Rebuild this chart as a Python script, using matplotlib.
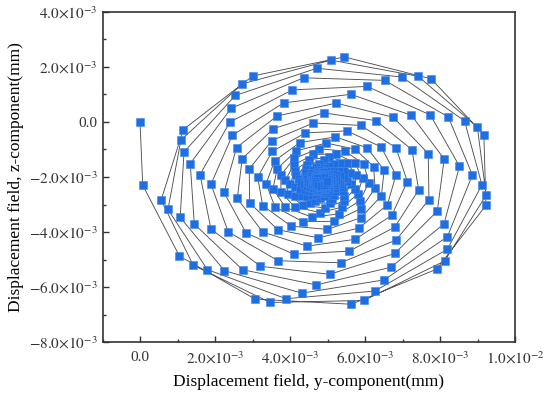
"""
Trajetoria em espiral do campo de deslocamento (componentes y e z).

Os pontos foram lidos da figura em coordenadas polares em torno do centro
da espiral: angulo (graus) e raio (unidades de 1e-3 mm), uma volta por linha,
na ordem em que a trajetoria os percorre.
"""

import numpy as np
import matplotlib.pyplot as plt
from matplotlib.ticker import FuncFormatter, MultipleLocator

plt.rcParams["font.family"] = ["Liberation Serif", "DejaVu Serif"]
plt.rcParams["mathtext.fontset"] = "stix"

ESCALA = 1e-3  # valores abaixo em unidades de 1e-3 mm

PONTO_INICIAL_Y = 0.0
PONTO_INICIAL_Z = 0.0
CENTRO_Y = 4.83
CENTRO_Z = -2.16

# angulo de cada ponto em relacao ao centro (graus), 11 pontos por volta
ANGULO_GRAUS = [
    181.6, 215.6, 247.6, 280.2, 314.0, 348.8, 21.4, 51.8, 82.2, 115.5, 152.9,
    189.0, 221.7, 252.8, 284.8, 318.7, 353.5, 25.4, 55.9, 86.6, 120.7, 158.1,
    194.0, 226.5, 257.6, 289.8, 323.8, 358.3, 29.9, 60.4, 91.6, 126.3, 163.7,
    199.2, 231.5, 262.7, 295.2, 329.2, 3.3, 34.6, 65.2, 97.1, 132.2, 169.5,
    204.6, 236.8, 268.1, 300.9, 334.9, 8.5, 39.6, 70.4, 103.0, 138.4, 175.6,
    210.5, 242.3, 273.9, 306.9, 340.8, 13.9, 44.9, 76.0, 109.4, 144.7, 182.0,
    216.4, 248.2, 280.0, 313.2, 347.0, 19.5, 50.4, 82.0, 116.3, 151.4, 188.8,
    223.1, 254.4, 286.5, 319.8, 353.3, 25.4, 56.3, 88.5, 123.6, 158.8, 195.5,
    229.7, 261.0, 293.5, 326.8, 359.9, 31.6, 62.6, 95.6, 131.5, 166.8, 202.3,
    236.6, 268.0, 300.9, 334.2, 6.7, 38.1, 69.4, 103.4, 140.0, 174.6, 209.4,
    243.8, 275.5, 308.8, 341.9, 13.7, 45.0, 76.7, 111.9, 148.9, 183.1, 216.8,
    251.5, 283.5, 317.1, 349.9, 21.0, 52.2, 84.6, 121.1, 158.3, 191.5, 224.5,
    259.6, 291.9, 325.7, 358.0, 28.6, 59.8, 93.1, 130.8, 167.9, 199.9, 232.4,
    268.0, 300.7, 334.5, 6.2, 36.3, 67.8, 102.2, 140.9, 177.6, 208.4, 240.6,
    276.8, 309.9, 343.5, 14.5, 44.3, 76.3, 112.0, 151.3, 187.2, 217.0, 249.1,
    286.0, 319.4, 352.7, 22.9, 52.6, 85.3, 122.5, 162.0, 196.7, 225.9, 258.0,
    295.6, 329.1, 1.9, 31.5, 61.3, 95.0, 133.5, 172.8, 206.2, 235.0, 267.3,
    305.7, 339.0, 11.1, 40.3, 70.4, 105.5, 145.0, 183.5, 215.8, 244.4, 277.0,
    316.1, 349.1, 20.4, 49.4, 80.1, 116.7, 156.8, 194.0, 225.5, 254.1, 287.1,
    326.8, 359.3, 29.9, 58.9, 90.5, 128.7, 168.8, 204.4, 235.4, 264.2, 297.7,
    337.7, 9.3, 39.5, 68.8, 101.7, 141.1, 180.6, 215.0, 245.6, 274.7, 308.7,
    348.8, 19.4, 49.4, 79.3, 113.8, 154.0, 192.1, 225.7, 256.1, 285.7, 320.0,
    359.9, 29.7, 59.7, 90.5, 126.7, 167.1, 203.4, 236.5, 267.0, 297.2, 331.6,
    10.9, 40.1, 70.5, 102.6, 140.2, 180.0, 214.7, 247.6, 278.5, 309.1, 343.3,
    21.8, 50.9, 82.0, 115.6, 154.1, 192.5, 226.2, 259.1, 290.5, 321.3, 355.1,
    32.8, 62.1, 94.3, 129.5, 168.1, 204.7, 237.8, 271.0, 303.0, 333.7, 6.8,
]

# distancia de cada ponto ao centro (1e-3 mm)
RAIO = [
    4.76, 4.65, 4.62, 4.53, 4.43, 4.48, 4.66, 4.74, 4.56, 4.24, 4.13,
    4.32, 4.57, 4.60, 4.47, 4.38, 4.43, 4.61, 4.61, 4.41, 4.12, 4.03,
    4.21, 4.41, 4.36, 4.23, 4.17, 4.29, 4.41, 4.36, 4.11, 3.87, 3.81,
    3.98, 4.14, 4.09, 3.95, 3.92, 4.04, 4.12, 4.04, 3.79, 3.58, 3.55,
    3.72, 3.83, 3.76, 3.63, 3.62, 3.73, 3.78, 3.66, 3.41, 3.25, 3.24,
    3.41, 3.48, 3.38, 3.27, 3.28, 3.38, 3.40, 3.26, 3.02, 2.90, 2.94,
    3.08, 3.10, 3.00, 2.92, 2.95, 3.03, 3.02, 2.87, 2.65, 2.57, 2.62,
    2.74, 2.74, 2.64, 2.57, 2.62, 2.68, 2.65, 2.49, 2.30, 2.26, 2.32,
    2.41, 2.38, 2.29, 2.25, 2.30, 2.34, 2.29, 2.13, 1.98, 1.97, 2.06,
    2.10, 2.05, 1.97, 1.96, 2.01, 2.03, 1.96, 1.81, 1.70, 1.70, 1.79,
    1.81, 1.75, 1.69, 1.69, 1.73, 1.73, 1.66, 1.52, 1.45, 1.47, 1.54,
    1.54, 1.49, 1.45, 1.46, 1.50, 1.48, 1.40, 1.29, 1.26, 1.31, 1.34,
    1.32, 1.27, 1.25, 1.27, 1.30, 1.27, 1.19, 1.10, 1.10, 1.14, 1.16,
    1.13, 1.09, 1.08, 1.11, 1.12, 1.08, 1.00, 0.94, 0.96, 0.99, 1.00,
    0.97, 0.93, 0.94, 0.96, 0.96, 0.92, 0.84, 0.81, 0.83, 0.86, 0.85,
    0.82, 0.80, 0.81, 0.83, 0.82, 0.77, 0.71, 0.70, 0.72, 0.74, 0.73,
    0.70, 0.69, 0.70, 0.71, 0.70, 0.65, 0.60, 0.60, 0.63, 0.64, 0.62,
    0.60, 0.59, 0.61, 0.61, 0.59, 0.54, 0.51, 0.53, 0.54, 0.54, 0.52,
    0.51, 0.51, 0.53, 0.52, 0.50, 0.46, 0.44, 0.46, 0.47, 0.47, 0.45,
    0.44, 0.45, 0.46, 0.45, 0.42, 0.39, 0.39, 0.41, 0.41, 0.40, 0.39,
    0.39, 0.40, 0.40, 0.39, 0.36, 0.34, 0.34, 0.36, 0.36, 0.35, 0.34,
    0.34, 0.35, 0.34, 0.33, 0.30, 0.29, 0.30, 0.31, 0.31, 0.30, 0.29,
    0.29, 0.30, 0.29, 0.28, 0.25, 0.25, 0.26, 0.27, 0.26, 0.25, 0.25,
    0.26, 0.26, 0.25, 0.23, 0.22, 0.22, 0.23, 0.23, 0.22, 0.21, 0.21,
    0.22, 0.22, 0.21, 0.19, 0.18, 0.19, 0.20, 0.19, 0.18, 0.18, 0.18,
    0.19, 0.18, 0.17, 0.16, 0.16, 0.16, 0.17, 0.16, 0.15, 0.15, 0.16,
]

COR_PONTO = "#1f6fe3"
COR_LINHA = "#505050"


def formatar_tick(valor, pos):
    """Escreve 2.0x10^-3 como na figura original."""
    if abs(valor) < 1e-12:
        return "0.0"
    expoente = int(np.floor(np.log10(abs(valor)) + 1e-9))
    mantissa = valor / 10.0**expoente
    return rf"${mantissa:.1f}{{\times}}10^{{{expoente}}}$"


def main():
    angulo = np.deg2rad(ANGULO_GRAUS)
    raio = np.array(RAIO)
    y = np.concatenate([[PONTO_INICIAL_Y], CENTRO_Y + raio * np.cos(angulo)]) * ESCALA
    z = np.concatenate([[PONTO_INICIAL_Z], CENTRO_Z + raio * np.sin(angulo)]) * ESCALA

    fig = plt.figure(figsize=(5.5, 3.97), dpi=100)
    ax = fig.add_axes([0.1864, 0.1378, 0.75, 0.8327])

    ax.plot(y, z, color=COR_LINHA, linewidth=0.65, marker="s", markersize=5.6,
            markerfacecolor=COR_PONTO, markeredgecolor="#3f86ec",
            markeredgewidth=0.4)

    ax.set_xlim(-1e-3, 1e-2)
    ax.set_ylim(-8e-3, 4e-3)
    ax.xaxis.set_major_locator(MultipleLocator(2e-3))
    ax.xaxis.set_minor_locator(MultipleLocator(1e-3))
    ax.yaxis.set_major_locator(MultipleLocator(2e-3))
    ax.yaxis.set_minor_locator(MultipleLocator(1e-3))
    ax.xaxis.set_major_formatter(FuncFormatter(formatar_tick))
    ax.yaxis.set_major_formatter(FuncFormatter(formatar_tick))

    ax.tick_params(which="both", direction="in", top=False, right=False,
                   colors="#333333", labelsize=11, width=1.0)
    ax.tick_params(which="major", length=4)
    ax.tick_params(which="minor", length=2.5)
    ax.tick_params(axis="x", pad=6)
    for spine in ax.spines.values():
        spine.set_linewidth(1.2)
        spine.set_color("#333333")

    ax.set_xlabel("Displacement field, y-component(mm)", fontsize=12.5)
    ax.set_ylabel("Displacement field, z-component(mm)", fontsize=12.5)
    ax.xaxis.set_label_coords(0.5, -0.097)
    ax.yaxis.set_label_coords(-0.19, 0.5)

    fig.savefig("out.png", dpi=100)


if __name__ == "__main__":
    main()
